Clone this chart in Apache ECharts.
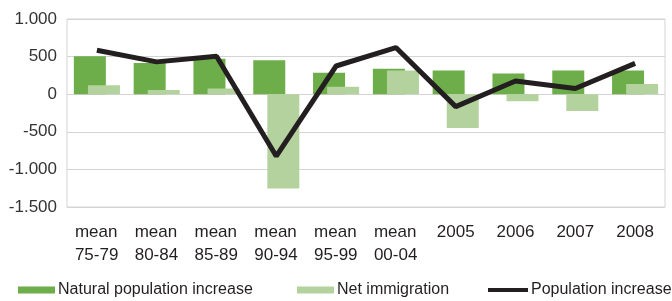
<!DOCTYPE html>
<html>
<head>
<meta charset="utf-8">
<script src="https://cdn.jsdelivr.net/npm/echarts@6/dist/echarts.min.js"></script>
<style>
    html, body { margin: 0; padding: 0; background: #fff; }
    #chart { width: 672px; height: 301px; }
</style>
</head>
<body>
<div id="chart"></div>
<script>
    var categories = ['mean\n75-79', 'mean\n80-84', 'mean\n85-89', 'mean\n90-94', 'mean\n95-99', 'mean\n00-04', '2005', '2006', '2007', '2008'];
    var naturalIncrease = [505, 415, 470, 450, 285, 340, 315, 275, 315, 315];
    var netImmigration = [120, 55, 75, -1255, 100, 315, -450, -95, -225, 135];
    var populationIncrease = [585, 430, 505, -825, 375, 620, -165, 175, 75, 410];
    var yTicks = { min: -1500, max: 1000, step: 500 };

    var font = "'Liberation Sans', Arial, sans-serif";
    var chart = echarts.init(document.getElementById('chart'));

    function legendAt(left, name) {
        return {
            left: left,
            top: 282,
            data: [{ name: name, icon: 'rect' }],
            itemWidth: name == 'Population increase' ? 40 : 37,
            itemHeight: name == 'Population increase' ? 4 : 7,
            itemGap: 0,
            padding: 0,
            textStyle: { fontFamily: font, fontSize: 16, color: '#231f20', padding: [0, 0, 0, -2] }
        };
    }

    chart.setOption({
        animation: false,
        legend: [
            legendAt(18, 'Natural population increase'),
            legendAt(297, 'Net immigration'),
            legendAt(488, 'Population increase')
        ],
        grid: {
            left: 67,
            right: 7,
            top: 19,
            bottom: 94,
            show: true,
            borderColor: '#d4d4d4',
            borderWidth: 1
        },
        xAxis: {
            type: 'category',
            data: categories,
            axisLine: { show: false },
            axisTick: { show: false },
            axisLabel: {
                margin: 14,
                fontFamily: font,
                fontSize: 17,
                lineHeight: 23,
                color: '#231f20',
                interval: 0,
                formatter: function (v) {
                    if (v.indexOf('\n') < 0) return v;
                    return v.split('\n').map(function (s) { return '{m|' + s + '}'; }).join('\n');
                },
                rich: {
                    m: { width: 44, align: 'left', fontFamily: font, fontSize: 17, lineHeight: 23, color: '#231f20' }
                }
            }
        },
        yAxis: {
            type: 'value',
            min: yTicks.min,
            max: yTicks.max,
            interval: yTicks.step,
            axisLine: { show: false },
            axisTick: { show: false },
            splitLine: { lineStyle: { color: '#d4d4d4', width: 1 } },
            axisLabel: {
                margin: 10,
                fontFamily: font,
                fontSize: 17,
                color: '#333',
                padding: [0, 0, 5, 0],
                formatter: function (v) {
                    var s = Math.abs(v).toString().replace(/\B(?=(\d{3})+(?!\d))/g, '.');
                    return (v < 0 ? '-' : '') + s;
                }
            }
        },
        series: [{
            name: 'Natural population increase',
            type: 'bar',
            data: naturalIncrease,
            barWidth: 32,
            barGap: '-56%',
            itemStyle: { color: '#6dae4a' }
        }, {
            name: 'Net immigration',
            type: 'bar',
            data: netImmigration,
            barWidth: 32,
            itemStyle: { color: '#b3d29d' }
        }, {
            name: 'Population increase',
            type: 'line',
            data: populationIncrease,
            symbol: 'none',
            lineStyle: { color: '#231f20', width: 5 },
            itemStyle: { color: '#231f20' },
            z: 5
        }]
    });
</script>
</body>
</html>
